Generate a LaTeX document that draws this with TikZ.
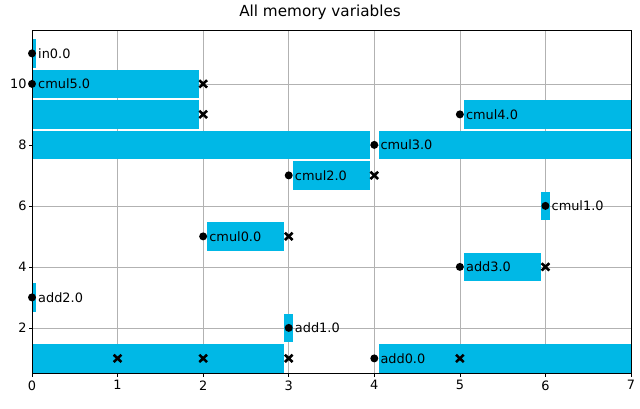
\documentclass[tikz,border=0pt]{standalone}
\usepackage{fontspec}
\setmainfont{DejaVu Sans}
\definecolor{barblue}{RGB}{0,184,230}
\tikzset{
  bar/.style={fill=barblue, draw=none},
  lbl/.style={anchor=west, inner sep=0pt, font=\fontsize{11}{12}\selectfont},
  tick/.style={inner sep=0pt, font=\fontsize{11}{12}\selectfont},
}
\newcommand{\dotmark}[2]{\fill (#1,#2) circle [x=1cm,y=1cm,radius=0.12];}
\newcommand{\xmark}[2]{\draw[line width=2.2pt] (#1,#2) ++(-0.045,-0.12) -- ++(0.09,0.24) (#1,#2) ++(-0.045,0.12) -- ++(0.09,-0.24);}
\begin{document}
\begin{tikzpicture}[x=2.567cm, y=0.915cm]
	\useasboundingbox (-0.374,-0.656) rectangle (7.105,12.75);
	%grid
	\foreach \i in {0,...,7} \draw[gray!60] (\i,0.52) -- (\i,11.77);
	\foreach \j in {2,4,...,10} \draw[gray!60] (0,\j) -- (7,\j);
	%bars
	\foreach \a/\b/\y in {0/0.05/11, 0/1.95/10, 0/1.95/9, 5.05/7/9, 0/3.95/8, 4.05/7/8,
	    3.05/3.95/7, 5.95/6.05/6, 2.05/2.95/5, 5.05/5.95/4, 0/0.05/3, 2.95/3.05/2,
	    0/2.95/1, 4.05/7/1}
	  \fill[bar] (\a,\y-0.47) rectangle (\b,\y+0.47);
	%marker
	\foreach \x/\y/\t in {0/11/in0.0, 0/10/cmul5.0, 5/9/cmul4.0, 4/8/cmul3.0, 3/7/cmul2.0,
	    6/6/cmul1.0, 2/5/cmul0.0, 5/4/add3.0, 0/3/add2.0, 3/2/add1.0, 4/1/add0.0}
	  {\dotmark{\x}{\y}
	   \node[lbl] at (\x+0.07,\y) {\t};}
	\foreach \x/\y in {2/10, 2/9, 4/7, 3/5, 6/4, 1/1, 2/1, 3/1, 5/1}
	  \xmark{\x}{\y}
	%achsen
	\draw (0,0.52) rectangle (7,11.77);
	\foreach \i in {0,...,7}
	  {\draw (\i,0.52) -- (\i,0.40);
	   \node[tick, anchor=north] at (\i,0.28) {\i};}
	\foreach \j in {2,4,...,10}
	  {\draw (0,\j) -- (-0.04,\j);
	   \node[tick, anchor=east] at (-0.06,\j) {\j};}
	\node[font=\fontsize{13}{14}\selectfont] at (3.366,12.36) {All memory variables};
\end{tikzpicture}
\end{document}
